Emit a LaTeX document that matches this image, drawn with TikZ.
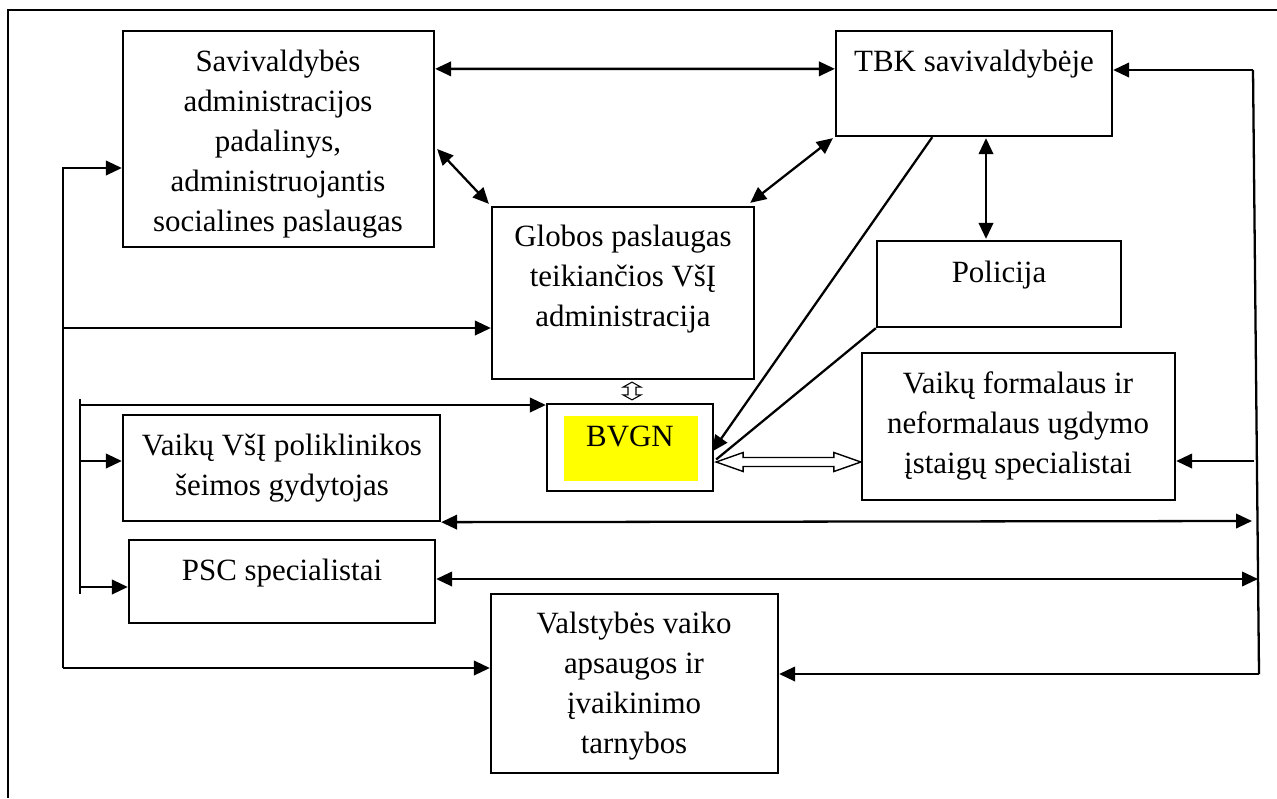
\documentclass[tikz,border=0pt]{standalone}
\usepackage{fontspec}
\setmainfont{Liberation Serif}
\usetikzlibrary{arrows.meta,fit,calc}
\begin{document}
\begin{tikzpicture}[x=0.02cm,y=-0.02cm,
  every node/.style={font=\fontsize{17.6}{22.76}\selectfont},
  box/.style={draw, line width=1.3pt, inner sep=0pt},
  txt/.style={align=center, inner sep=0pt},
  ln/.style={line width=1.3pt},
  tip/.tip={Triangle[length=0.32cm,width=0.29cm]},
  arr/.style={ln, -tip},
  darr/.style={ln, tip-tip},
  hollow/.style={draw, line width=0.8pt, fill=white, line join=miter}
]
\useasboundingbox (0,0) rectangle (1277,798);
% outer frame (clipped on right and bottom)
\coordinate (fbl) at (8,798);
\coordinate (ftl) at (8,10);
\coordinate (ftr) at (1277,10);
\draw[ln] (fbl) -- (ftl) -- (ftr);

% boxes
\node[box, fit={(123,31) (434,247)}] (sav) {};
\node[txt] (savT) at (278,144) {Savivaldybės\\administracijos\\padalinys,\\administruojantis\\socialines paslaugas};
\node[box, fit={(836,31) (1112,136)}] (tbk) {};
\node[txt] (tbkT) at (974,64) {TBK savivaldybėje};
\node[box, fit={(492,207) (754,379)}] (glob) {};
\node[txt] (globT) at (623,279) {Globos paslaugas\\teikiančios VšĮ\\administracija};
\node[box, fit={(877,241) (1121,327)}] (pol) {};
\node[txt] (polT) at (999,275) {Policija};
\node[box, fit={(547,404) (713,491)}] (bvgn) {};
\node[fill={rgb,255:red,255;green,255;blue,0}, inner sep=0pt, fit={(564,416) (698,481)}] (yel) {};
\node[txt] (bvgnT) at (630,436) {BVGN};
\node[box, fit={(862,353) (1175,500)}] (form) {};
\node[txt] (formT) at (1018,426) {Vaikų formalaus ir\\neformalaus ugdymo\\įstaigų specialistai};
\node[box, fit={(123,415) (440,521)}] (vsi) {};
\node[txt] (vsiT) at (282,468) {Vaikų VšĮ poliklinikos\\šeimos gydytojas};
\node[box, fit={(129,540) (435,623)}] (psc) {};
\node[txt] (pscT) at (282,573) {PSC specialistai};
\node[box, fit={(491,594) (778,773)}] (val) {};
\node[txt] (valT) at (634,686) {Valstybės vaiko\\apsaugos ir\\įvaikinimo\\tarnybos};

% top connections
\draw[darr] ($(sav.north east)+(0,39)$) -- ($(tbk.north west)+(0,39)$);
\draw[darr] ($(sav.east)+(2,10)$) -- ($(glob.north west)+(-2,-2)$);
\draw[darr] ($(tbk.south west)+(-2,1)$) -- ($(glob.north east)+(-5,-3)$);
\draw[darr] ($(tbk.south)+(12,1)$) -- ($(pol.north)+(-13,-1)$);
\draw[arr] ($(tbk.south west)!0.35!(tbk.south east)$) -- ($(bvgn.east)+(-2,4)$);
\draw[ln] (pol.south west) -- ($(bvgn.east)+(2,12)$);

% hollow double arrow BVGN <-> Vaikų formalaus
\coordinate (ha) at ($(bvgn.east)+(2,14.5)$);
\coordinate (hb) at (form.west |- ha);
\draw[hollow] (ha) -- ++(27,-9.5) -- ++(0,5) -- ($(hb)+(-27,-4.5)$) -- ++(0,-5) -- (hb)
  -- ++(-27,9.5) -- ++(0,-5) -- ($(ha)+(27,4.5)$) -- ++(0,5) -- cycle;

% small hollow double arrow Globos <-> BVGN
\coordinate (va) at ($(glob.south -| bvgn.north)+(2,2)$);
\coordinate (vb) at ($(bvgn.north)+(2,-3)$);
\draw[hollow, line width=0.6pt] (va) -- ++(9,5) -- ++(-5,0) -- ($(vb)+(4,-5)$) -- ++(5,0) -- (vb)
  -- ++(-9,-5) -- ++(5,0) -- ($(va)+(-4,5)$) -- ++(-5,0) -- cycle;

% left outer bus
\coordinate (L1a) at (63,168);
\coordinate (L1b) at (63,328);
\coordinate (L1c) at (63,668);
\draw[arr] (L1c) -- (L1a) -- (L1a -| sav.west);
\draw[arr] (L1b) -- (L1b -| glob.west);
\draw[arr] (L1c) -- (L1c -| val.west);

% left inner bus
\coordinate (Lb0) at (80,399);
\coordinate (Lb1) at (80,405);
\coordinate (Lb2) at (80,461);
\coordinate (Lb3) at (80,587);
\coordinate (Lb4) at (80,594);
\draw[ln] (Lb0) -- (Lb4);
\draw[arr] (Lb1) -- (Lb1 -| bvgn.west);
\draw[arr] (Lb2) -- (Lb2 -| vsi.west);
\draw[arr] (Lb3) -- (Lb3 -| psc.west);

% right bus
\coordinate (Rtop) at (1253,70);
\coordinate (Rbot) at (1259,674);
\coordinate (Rf) at (1254,461);
\coordinate (Rv) at (1252,521);
\coordinate (Rp) at (1258,579);
\draw[ln] (Rtop) -- (Rbot);
\draw[arr] (Rtop) -- (Rtop -| tbk.east);
\draw[arr] (Rf) -- (Rf -| form.east);
\draw[arr] (Rbot) -- (Rbot -| val.east);
\draw[darr] (vsi.south east) -- (Rv);
\draw[darr] (psc.east |- Rp) -- (Rp);
\end{tikzpicture}
\end{document}
